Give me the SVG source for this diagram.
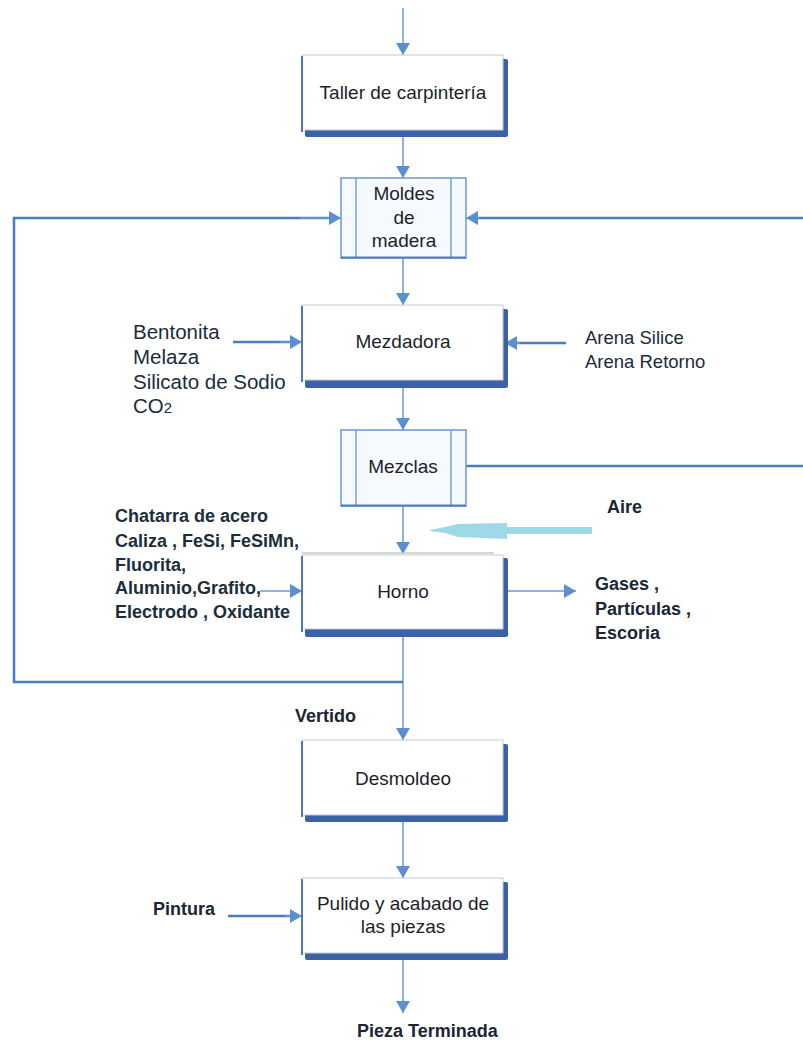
<svg xmlns="http://www.w3.org/2000/svg" width="803" height="1042" viewBox="0 0 803 1042">
<style>
.bg{fill:#ffffff}
.sh{fill:#3b62a6}
.box{fill:#ffffff;stroke:#c3c9d4;stroke-width:1}
.lb{stroke:#4f78b8;stroke-width:2;fill:none}
.mb{fill:#f6f9fd;stroke:#6b96cf;stroke-width:1.5}
.il{stroke:#7aa0d4;stroke-width:1.5}
.nt{font-family:"Liberation Sans",Arial,sans-serif;font-size:19px;fill:#1e1e2a;text-anchor:middle}
.st{font-family:"Liberation Sans",Arial,sans-serif;font-size:18.5px;fill:#1b2c38}
.st2{font-family:"Liberation Sans",Arial,sans-serif;font-size:20.5px;fill:#1b2c38}
.bt{font-family:"Liberation Sans",Arial,sans-serif;font-size:18px;font-weight:bold;fill:#1b2533}
.ct{font-family:"Liberation Sans",Arial,sans-serif;font-size:18px;font-weight:bold;fill:#1c2e3a}
.cn{stroke:#6a9ad6;stroke-width:1.5;fill:none}
.lp{stroke:#4a7cc2;stroke-width:2.5;fill:none}
</style>
<defs>
<marker id="ah" markerUnits="userSpaceOnUse" markerWidth="14" markerHeight="14" refX="12" refY="7" orient="auto">
<path d="M0,0 L12,7 L0,14 z" fill="#5b8fd0"/>
</marker>
</defs>
<rect class="bg" x="0" y="0" width="803" height="1042"/>

<g id="connectors">
<line class="cn" x1="403" y1="8" x2="403" y2="55" marker-end="url(#ah)"/>
<line class="cn" x1="403" y1="130" x2="403" y2="178" marker-end="url(#ah)"/>
<line class="cn" x1="403" y1="258" x2="403" y2="305" marker-end="url(#ah)"/>
<line class="cn" x1="403" y1="380" x2="403" y2="430" marker-end="url(#ah)"/>
<line class="cn" x1="403" y1="506" x2="403" y2="554" marker-end="url(#ah)"/>
<line class="cn" x1="403" y1="630" x2="403" y2="740" marker-end="url(#ah)"/>
<line class="cn" x1="403" y1="815" x2="403" y2="878" marker-end="url(#ah)"/>
<line class="cn" x1="403" y1="953" x2="403" y2="1013" marker-end="url(#ah)"/>
<polyline class="lp" points="403,682 14,682 14,218 339,218"/>
<line class="cn" x1="300" y1="218" x2="341" y2="218" marker-end="url(#ah)"/>
<line class="lp" x1="803" y1="218" x2="470" y2="218"/>
<line class="cn" x1="480" y1="218" x2="466" y2="218" marker-end="url(#ah)"/>
<line class="lp" x1="466" y1="466" x2="803" y2="466"/>
<line class="lp" x1="233" y1="342" x2="292" y2="342"/>
<line class="cn" x1="280" y1="342" x2="302" y2="342" marker-end="url(#ah)"/>
<line class="lp" x1="566" y1="343" x2="515" y2="343"/>
<line class="cn" x1="520" y1="343" x2="505" y2="343" marker-end="url(#ah)"/>
<line class="cn" x1="260" y1="591" x2="302" y2="591" marker-end="url(#ah)"/>
<line class="cn" x1="505" y1="591" x2="576" y2="591" marker-end="url(#ah)"/>
<line class="lp" x1="228" y1="916" x2="292" y2="916"/>
<line class="cn" x1="285" y1="916" x2="302" y2="916" marker-end="url(#ah)"/>
<polygon points="592,527 507,527 507,523 458,524 445,527 430,530 430,531 445,533 458,537 507,539 507,534 592,534" fill="#9dd9e8"/>
</g>

<g id="n-taller">
<rect class="sh" x="305" y="59" width="203" height="78" rx="2"/>
<rect class="box" x="302" y="55" width="201" height="75"/>
<line class="lb" x1="302" y1="56" x2="302" y2="132"/>
<text class="nt" x="403" y="99">Taller de carpintería</text>
</g>

<g id="n-moldes">
<rect class="mb" x="341" y="178" width="125" height="80"/>
<line class="il" x1="356" y1="178" x2="356" y2="258"/>
<line class="il" x1="451" y1="178" x2="451" y2="258"/>
<line x1="341" y1="257.5" x2="466" y2="257.5" stroke="#4f7fc0" stroke-width="2"/>
<text class="nt" x="404" y="200">Moldes</text>
<text class="nt" x="404" y="224">de</text>
<text class="nt" x="404" y="247">madera</text>
</g>

<g id="n-mezdadora">
<rect class="sh" x="305" y="309" width="203" height="79" rx="2"/>
<rect class="box" x="302" y="305" width="201" height="75"/>
<line class="lb" x1="302" y1="306" x2="302" y2="382"/>
<text class="nt" x="403" y="348">Mezdadora</text>
</g>

<g id="n-mezclas">
<rect class="mb" x="341" y="430" width="125" height="76"/>
<line class="il" x1="356" y1="430" x2="356" y2="506"/>
<line class="il" x1="451" y1="430" x2="451" y2="506"/>
<line x1="341" y1="505.5" x2="466" y2="505.5" stroke="#4f7fc0" stroke-width="2"/>
<text class="nt" x="403" y="473">Mezclas</text>
</g>

<g id="n-horno">
<line x1="302" y1="553" x2="494" y2="553" stroke="#c8c8c8" stroke-width="1.5"/>
<rect class="sh" x="305" y="558" width="203" height="79" rx="2"/>
<rect class="box" x="302" y="555" width="201" height="74"/>
<line class="lb" x1="302" y1="556" x2="302" y2="632"/>
<text class="nt" x="403" y="598">Horno</text>
</g>

<g id="n-desmoldeo">
<rect class="sh" x="305" y="744" width="203" height="78" rx="2"/>
<rect class="box" x="302" y="740" width="201" height="75"/>
<line class="lb" x1="302" y1="741" x2="302" y2="817"/>
<text class="nt" x="403" y="785">Desmoldeo</text>
</g>

<g id="n-pulido">
<rect class="sh" x="305" y="882" width="203" height="78" rx="2"/>
<rect class="box" x="302" y="878" width="201" height="75"/>
<line class="lb" x1="302" y1="879" x2="302" y2="955"/>
<text class="nt" x="403" y="910">Pulido y acabado de</text>
<text class="nt" x="403" y="933">las piezas</text>
</g>

<g id="labels">
<text class="st2" x="133" y="339">Bentonita</text>
<text class="st2" x="133" y="364">Melaza</text>
<text class="st2" x="133" y="389">Silicato de Sodio</text>
<text class="st2" x="133" y="413">CO<tspan font-size="15">2</tspan></text>
<text class="st" x="585" y="344">Arena Silice</text>
<text class="st" x="585" y="368">Arena Retorno</text>
<text class="ct" x="115" y="522">Chatarra de acero</text>
<text class="ct" x="115" y="547">Caliza , FeSi, FeSiMn,</text>
<text class="ct" x="115" y="571">Fluorita,</text>
<text class="ct" x="115" y="594">Aluminio,Grafito,</text>
<text class="ct" x="115" y="618">Electrodo , Oxidante</text>
<text class="bt" x="607" y="513">Aire</text>
<text class="bt" x="595" y="590">Gases ,</text>
<text class="bt" x="595" y="615">Partículas ,</text>
<text class="bt" x="595" y="639">Escoria</text>
<text class="bt" x="295" y="722">Vertido</text>
<text class="bt" x="153" y="915">Pintura</text>
<text class="bt" x="357" y="1037">Pieza Terminada</text>
</g>
</svg>
